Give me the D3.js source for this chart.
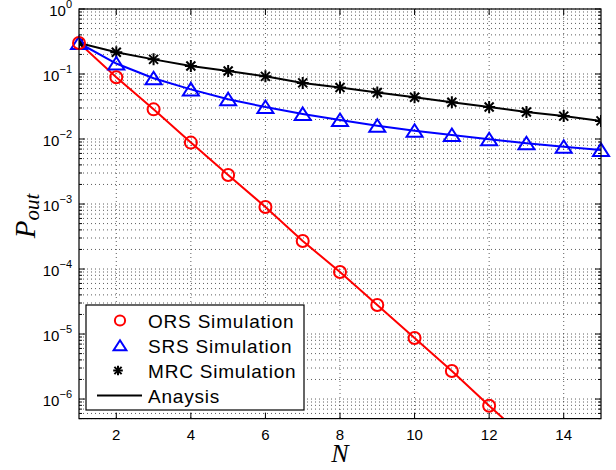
<!DOCTYPE html>
<html lang="en">
<head>
  <meta charset="utf-8"/>
  <title>Outage probability vs N</title>
  <script src="https://d3js.org/d3.v7.min.js"></script>
  <style>
    body { margin: 0; background: #fff; }
    svg text { font-family: "Liberation Sans", Arial, sans-serif; }
  </style>
</head>
<body>
<svg id="chart" width="616" height="470"></svg>
<script>
  // values
  const nSim = [1, 2, 3, 4, 5, 6, 7, 8, 9, 10, 11, 12, 13, 14, 15];
  const orsSim = [0.3, 0.089, 0.0286, 0.0088, 0.0028, 0.0009, 0.00027, 9e-5, 2.8e-5, 8.7e-6, 2.7e-6, 7.9e-7];
  const srsSim = [0.3, 0.145, 0.086, 0.058, 0.041, 0.031, 0.0243, 0.0196, 0.016, 0.0134, 0.0115, 0.0099, 0.0086, 0.0076, 0.0068];
  const mrcSim = [0.3, 0.216, 0.168, 0.133, 0.111, 0.092, 0.073, 0.062, 0.052, 0.044, 0.0367, 0.031, 0.026, 0.0225, 0.019];
  const nAna = [1, 2, 3, 4, 5, 6, 7, 8, 9, 10, 11, 12, 13];
  const orsAna = [0.3, 0.089, 0.0286, 0.0088, 0.0028, 0.0009, 0.00027, 9e-5, 2.8e-5, 8.7e-6, 2.7e-6, 7.9e-7, 2.4e-7];
  const srsAna = [0.3, 0.145, 0.086, 0.058, 0.041, 0.031, 0.0243, 0.0196, 0.016, 0.0134, 0.0115, 0.0099, 0.0086, 0.0076, 0.0068];
  const mrcAna = [0.3, 0.216, 0.168, 0.133, 0.111, 0.092, 0.073, 0.062, 0.052, 0.044, 0.0367, 0.031, 0.026, 0.0225, 0.019];
  const xTicks = [2, 4, 6, 8, 10, 12, 14];
  const yExps = [-6, -5, -4, -3, -2, -1, 0];
  const legendLabels = ["ORS Simulation", "SRS Simulation", "MRC Simulation", "Anaysis"];

  const width = 616, height = 470;
  const margin = { top: 9, right: 15, bottom: 51.4, left: 79 };
  const innerWidth = width - margin.left - margin.right;
  const innerHeight = height - margin.top - margin.bottom;

  const svg = d3.select("#chart");
  const g = svg.append("g").attr("transform", `translate(${margin.left},${margin.top})`);

  const x = d3.scaleLinear().domain([1, 15]).range([0, innerWidth]);
  const y = d3.scaleLog().domain([5e-7, 1]).range([innerHeight, 0]);

  // minor + major y values for grid
  const yGrid = [];
  for (let e = -7; e <= 0; e++) {
    for (let m = 1; m <= 9; m++) {
      const v = m * Math.pow(10, e);
      if (v >= 5e-7 && v <= 1) yGrid.push({ v: v, major: m === 1 });
    }
  }

  // grid
  const grid = g.append("g")
    .attr("stroke", "#333")
    .attr("stroke-width", 0.8)
    .attr("stroke-dasharray", "1,3");
  grid.selectAll(".gy").data(yGrid).enter().append("line")
    .attr("x1", 0).attr("x2", innerWidth)
    .attr("y1", d => y(d.v)).attr("y2", d => y(d.v));
  grid.selectAll(".gx").data(xTicks).enter().append("line")
    .attr("y1", 0).attr("y2", innerHeight)
    .attr("x1", d => x(d)).attr("x2", d => x(d));

  // ticks (inward, both sides)
  const ticks = g.append("g").attr("stroke", "#000").attr("stroke-width", 1);
  yGrid.forEach(function(d) {
    const len = d.major ? 6 : 3;
    const yy = y(d.v);
    ticks.append("line").attr("x1", 0).attr("x2", len).attr("y1", yy).attr("y2", yy);
    ticks.append("line").attr("x1", innerWidth).attr("x2", innerWidth - len).attr("y1", yy).attr("y2", yy);
  });
  xTicks.forEach(function(d) {
    const xx = x(d);
    ticks.append("line").attr("x1", xx).attr("x2", xx).attr("y1", innerHeight).attr("y2", innerHeight - 6);
    ticks.append("line").attr("x1", xx).attr("x2", xx).attr("y1", 0).attr("y2", 6);
  });

  // tick labels
  g.selectAll(".xl").data(xTicks).enter().append("text")
    .attr("x", d => x(d)).attr("y", innerHeight + 21)
    .attr("text-anchor", "middle")
    .attr("font-size", 15)
    .text(d => d);

  const yl = g.selectAll(".yl").data(yExps).enter().append("text")
    .attr("x", -7).attr("y", d => y(Math.pow(10, d)) + 7)
    .attr("text-anchor", "end")
    .attr("font-size", 15);
  yl.append("tspan").text("10");
  yl.append("tspan").attr("dy", -8).attr("font-size", 11).text(d => d === 0 ? "0" : "\u2212" + (-d));

  // axis titles
  svg.append("text")
    .attr("x", margin.left + x(8)).attr("y", 462)
    .attr("text-anchor", "middle")
    .style("font-family", "'Liberation Serif', 'Times New Roman', serif")
    .style("font-style", "italic")
    .attr("font-size", 26)
    .text("N");

  const py = svg.append("text")
    .attr("transform", "translate(35,216) rotate(-90)")
    .attr("text-anchor", "middle")
    .style("font-family", "'Liberation Serif', 'Times New Roman', serif")
    .style("font-style", "italic")
    .attr("font-size", 29);
  py.append("tspan").text("P");
  py.append("tspan").attr("dy", 4).attr("font-size", 21).text("out");

  // data
  svg.append("clipPath").attr("id", "clip")
    .append("rect").attr("width", innerWidth).attr("height", innerHeight);
  const plot = g.append("g").attr("clip-path", "url(#clip)");

  const line = d3.line().x(d => x(d[0])).y(d => y(d[1]));
  const series = [
    { n: nAna, v: orsAna, color: "#ff0000" },
    { n: nSim, v: srsAna, color: "#0000ff" },
    { n: nSim, v: mrcAna, color: "#000000" }
  ];
  series.forEach(function(s) {
    plot.append("path")
      .datum(d3.zip(s.n, s.v))
      .attr("d", line)
      .attr("fill", "none")
      .attr("stroke", s.color)
      .attr("stroke-width", 2);
  });

  function circleMark(sel, cx, cy, k) {
    sel.append("circle").attr("cx", cx).attr("cy", cy).attr("r", 6 * k)
      .attr("fill", "none").attr("stroke", "#ff0000").attr("stroke-width", 2);
  }
  function triMark(sel, cx, cy, k) {
    sel.append("path").attr("d", `M0,${-6.5 * k}L${8 * k},${6 * k}L${-8 * k},${6 * k}Z`)
      .attr("transform", `translate(${cx},${cy})`)
      .attr("fill", "none").attr("stroke", "#0000ff").attr("stroke-width", 2)
      .attr("stroke-linejoin", "miter");
  }
  function starMark(sel, cx, cy, k) {
    const s = sel.append("g").attr("transform", `translate(${cx},${cy})`)
      .attr("stroke", "#000").attr("stroke-width", 2);
    const a = 6 * k, b = 4.5 * k;
    s.append("line").attr("x1", -a).attr("x2", a).attr("y1", 0).attr("y2", 0);
    s.append("line").attr("x1", 0).attr("x2", 0).attr("y1", -a).attr("y2", a);
    s.append("line").attr("x1", -b).attr("x2", b).attr("y1", -b).attr("y2", b);
    s.append("line").attr("x1", -b).attr("x2", b).attr("y1", b).attr("y2", -b);
  }

  mrcSim.forEach((v, i) => starMark(plot, x(nSim[i]), y(v), 1));
  srsSim.forEach((v, i) => triMark(g, x(nSim[i]), y(v), 1));
  orsSim.forEach((v, i) => circleMark(g, x(nSim[i]), y(v), 1));

  // frame
  g.append("rect").attr("width", innerWidth).attr("height", innerHeight)
    .attr("fill", "none").attr("stroke", "#000").attr("stroke-width", 1.2);

  // legend
  const lg = svg.append("g");
  lg.append("rect").attr("x", 86).attr("y", 305).attr("width", 218).attr("height", 105)
    .attr("fill", "#fff").attr("stroke", "#000").attr("stroke-width", 1.2);
  const rowY = [320.5, 345.5, 370.5, 395.5];
  circleMark(lg, 120, rowY[0], 0.85);
  triMark(lg, 120, rowY[1], 0.8);
  starMark(lg, 118, rowY[2], 0.8);
  lg.append("line").attr("x1", 97).attr("x2", 142).attr("y1", rowY[3]).attr("y2", rowY[3])
    .attr("stroke", "#000").attr("stroke-width", 2);
  legendLabels.forEach(function(t, i) {
    lg.append("text").attr("x", 148).attr("y", rowY[i] + 7)
      .attr("font-size", 19)
      .attr("letter-spacing", 0.8)
      .text(t);
  });
</script>
</body>
</html>
